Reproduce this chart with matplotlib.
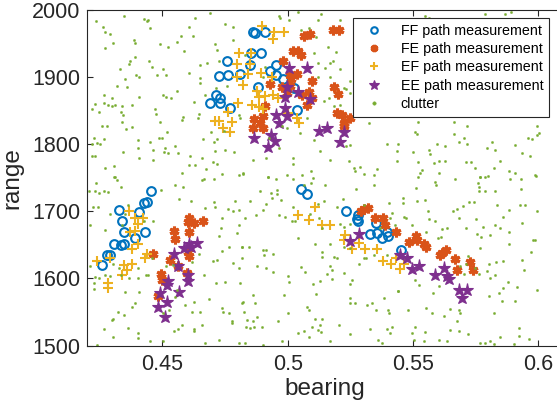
import matplotlib
matplotlib.use("Agg")
import matplotlib.pyplot as plt

plt.rcParams['font.family'] = ['Liberation Sans', 'DejaVu Sans']

# ---------------- data ----------------
ff_bearing = [0.4759, 0.4727, 0.4760, 0.4811, 0.4715, 0.4730, 0.4691, 0.4728, 0.4770,
              0.4862, 0.4870, 0.4911, 0.4854, 0.4895, 0.4850, 0.4953, 0.4930, 0.4954,
              0.4983, 0.4883, 0.5026, 0.5039,
              0.4456, 0.4428, 0.4438, 0.4327, 0.4405, 0.4337, 0.4431, 0.4348, 0.4391,
              0.4308, 0.4335, 0.4346, 0.4279, 0.4290, 0.4260,
              0.5053, 0.5075, 0.5231, 0.5279, 0.5277, 0.5279, 0.5354, 0.5330, 0.5357,
              0.5377, 0.5397, 0.5400, 0.5451]
ff_range = [1924, 1902, 1904, 1905, 1873, 1869, 1861, 1861, 1854,
            1967, 1966, 1968, 1937, 1937, 1918, 1919, 1909, 1903,
            1897, 1885, 1884, 1851,
            1731, 1712, 1714, 1702, 1699, 1686, 1669, 1670, 1661,
            1651, 1650, 1652, 1635, 1635, 1620,
            1733, 1726, 1700, 1695, 1689, 1686, 1682, 1666, 1668,
            1660, 1669, 1664, 1642]

fe_bearing = [0.5181, 0.5203, 0.5063, 0.5090, 0.5021, 0.5043, 0.5053, 0.4981, 0.5010,
              0.5037, 0.5097, 0.4930, 0.4977, 0.5013, 0.5010, 0.4997, 0.5083, 0.5097,
              0.5057, 0.5077, 0.5183, 0.5199, 0.4910, 0.4866, 0.4903, 0.4890, 0.4901,
              0.4861, 0.5197, 0.5217, 0.5250, 0.5223, 0.5226,
              0.4604, 0.4601, 0.4624, 0.4661, 0.4546, 0.4604, 0.4551, 0.4601, 0.4604,
              0.4464, 0.4531, 0.4564, 0.4495, 0.4500, 0.4597, 0.4482,
              0.5293, 0.5306, 0.5319, 0.5350, 0.5381, 0.5387, 0.5431, 0.5512, 0.5516,
              0.5485, 0.5542, 0.5552, 0.5616, 0.5632, 0.5609, 0.5669, 0.5726, 0.5676,
              0.5740]
fe_range = [1971, 1970, 1961, 1964, 1940, 1939, 1934, 1925, 1904,
            1905, 1895, 1890, 1885, 1897, 1887, 1877, 1878, 1869,
            1873, 1858, 1886, 1875, 1857, 1838, 1842, 1832, 1825,
            1824, 1847, 1844, 1840, 1832, 1827,
            1690, 1684, 1682, 1686, 1671, 1670, 1659, 1639, 1633,
            1636, 1628, 1619, 1606, 1598, 1608, 1574,
            1700, 1703, 1705, 1690, 1690, 1680, 1670, 1664, 1657,
            1654, 1652, 1647, 1638, 1642, 1635, 1629, 1624, 1613,
            1613]

ef_bearing = [0.4899, 0.4946, 0.4986, 0.4943, 0.4806, 0.4853, 0.4797, 0.4850, 0.4893,
              0.4797, 0.4843, 0.4821, 0.4877, 0.4937, 0.4887, 0.4910, 0.4943, 0.4963,
              0.4857, 0.4803, 0.4887, 0.4900, 0.4710, 0.4725, 0.4741, 0.4770, 0.4777,
              0.4760, 0.5003, 0.5039, 0.5047,
              0.4368, 0.4391, 0.4424, 0.4404, 0.4371, 0.4391, 0.4401, 0.4380, 0.4438,
              0.4431, 0.4239, 0.4291, 0.4348, 0.4378, 0.4358, 0.4338, 0.4284, 0.4284,
              0.5110, 0.5041, 0.5086, 0.5137, 0.5170, 0.5230, 0.5226, 0.5283, 0.5258,
              0.5310, 0.5357, 0.5381, 0.5413, 0.5434, 0.5447, 0.5466]
ef_range = [1977, 1967, 1968, 1957, 1937, 1937, 1920, 1920, 1907,
            1900, 1905, 1888, 1879, 1900, 1871, 1872, 1873, 1869,
            1859, 1861, 1856, 1853, 1835, 1835, 1824, 1819, 1834,
            1848, 1847, 1839, 1832,
            1700, 1690, 1690, 1681, 1670, 1671, 1651, 1644, 1637,
            1631, 1626, 1631, 1620, 1621, 1613, 1605, 1593, 1586,
            1706, 1695, 1687, 1680, 1680, 1665, 1657, 1653, 1644,
            1644, 1644, 1626, 1621, 1630, 1614, 1621]

ee_bearing = [0.5007, 0.5077, 0.4997, 0.5043, 0.5090, 0.4990, 0.4990, 0.4953, 0.4997,
              0.4967, 0.4866, 0.4933, 0.4950, 0.4923, 0.5123, 0.5157, 0.5223, 0.5207,
              0.4638, 0.4607, 0.4584, 0.4615, 0.4548, 0.4564, 0.4600, 0.4602, 0.4524,
              0.4517, 0.4567, 0.4491, 0.4517, 0.4481, 0.4511,
              0.5283, 0.5250, 0.5449, 0.5476, 0.5498, 0.5525, 0.5589, 0.5622, 0.5636,
              0.5645, 0.5682, 0.5716, 0.5696]
ee_range = [1914, 1914, 1885, 1878, 1868, 1870, 1855, 1844, 1842,
            1832, 1809, 1814, 1805, 1796, 1820, 1825, 1818, 1803,
            1653, 1652, 1645, 1647, 1637, 1619, 1605, 1596, 1596,
            1590, 1580, 1578, 1565, 1558, 1542,
            1667, 1656, 1635, 1630, 1614, 1618, 1605, 1615, 1603,
            1599, 1583, 1583, 1571]

clutter_bearing = [
    0.4348, 0.4234, 0.4428, 0.4444, 0.4439, 0.4264, 0.4272, 0.4292, 0.4450, 0.4628,
    0.4691, 0.4748, 0.4780, 0.4604, 0.4574, 0.4620, 0.4386, 0.4391, 0.4302, 0.4491,
    0.4524, 0.4559, 0.4271, 0.4587, 0.4708, 0.4718, 0.4783, 0.4369, 0.4367, 0.4391,
    0.4448, 0.4458, 0.4331, 0.4501, 0.4480, 0.4515, 0.4394, 0.4406, 0.4352, 0.4604,
    0.4651, 0.4678, 0.4727, 0.4651, 0.4650, 0.4320, 0.4359, 0.4557, 0.4715, 0.4671,
    0.4759, 0.4267, 0.4297, 0.4407, 0.4501, 0.4515, 0.4533, 0.4624, 0.4265, 0.4284,
    0.4297, 0.4311, 0.4229, 0.4217, 0.4247, 0.4337, 0.4377, 0.4471, 0.4475, 0.4335,
    0.4344, 0.4581, 0.4578, 0.4644, 0.4641, 0.4695, 0.4744, 0.4804, 0.4811, 0.4337,
    0.4492, 0.4260, 0.4277, 0.4355, 0.4379, 0.4518, 0.4488, 0.4498, 0.4228, 0.4239,
    0.4251, 0.4217, 0.4267, 0.4401, 0.4451, 0.4660, 0.4707, 0.4718, 0.4552, 0.4404,
    0.4464, 0.4511, 0.4505, 0.4521, 0.4341, 0.4561, 0.4711, 0.4751, 0.4787, 0.4220,
    0.4231, 0.4408, 0.4464, 0.4611, 0.4659, 0.4701, 0.4716, 0.4308, 0.4271, 0.4607,
    0.4628, 0.4673, 0.4578, 0.4738, 0.4807, 0.4820, 0.4308,
    0.4967, 0.4970, 0.5007, 0.5043, 0.5133, 0.5121, 0.5210, 0.5083, 0.5054, 0.5114,
    0.5159, 0.5194, 0.5103, 0.5121, 0.5167, 0.5181, 0.5147, 0.5210, 0.5266, 0.5270,
    0.5250, 0.5119, 0.5170, 0.5223, 0.5234, 0.5247, 0.5163, 0.5143, 0.5183, 0.5210,
    0.5077, 0.4830, 0.4903, 0.4910, 0.4977, 0.4997, 0.4927, 0.4967, 0.5023, 0.5021,
    0.4863, 0.4914, 0.4823, 0.4923, 0.4997, 0.5057, 0.5094, 0.5130, 0.5170, 0.5243,
    0.5263, 0.5290, 0.5270, 0.5306, 0.5343, 0.5357, 0.5397, 0.5437, 0.5323, 0.5250,
    0.5234, 0.5103, 0.5050,
    0.5509, 0.5516, 0.5522, 0.5662, 0.5716, 0.5702, 0.5682, 0.5662, 0.5716, 0.5596,
    0.5626, 0.5562, 0.5569, 0.5522, 0.5502, 0.5442, 0.5436, 0.5582, 0.5602, 0.5629,
    0.5712, 0.5733, 0.5536, 0.5529, 0.5602, 0.5749, 0.5769, 0.5789, 0.5822, 0.5816,
    0.5829, 0.5796, 0.5849, 0.5882, 0.5909, 0.5906, 0.5936, 0.5969, 0.5989, 0.5960,
    0.5976, 0.5996, 0.6002, 0.5996, 0.5549, 0.5562, 0.5786, 0.5866, 0.5893,
    0.4235, 0.4311, 0.4317, 0.4335, 0.4208, 0.4231, 0.4248, 0.4267, 0.4284, 0.4223,
    0.4244, 0.4211, 0.4271, 0.4291, 0.4361, 0.4351, 0.4340, 0.4428, 0.4464, 0.4495,
    0.4551, 0.4580, 0.4657, 0.4667, 0.4704, 0.4567, 0.4615, 0.4707, 0.4708, 0.4671,
    0.4761, 0.4788, 0.4804, 0.4780, 0.4738, 0.4735, 0.4798, 0.4804, 0.4724, 0.4764,
    0.4818, 0.4738, 0.4644, 0.4700, 0.4718, 0.4780, 0.4818, 0.4804, 0.4211, 0.4304,
    0.4231, 0.4247, 0.4227, 0.4228, 0.4271, 0.4291, 0.4328, 0.4335, 0.4351, 0.4367,
    0.4433, 0.4444, 0.4458, 0.4404, 0.4401, 0.4408, 0.4391, 0.4377, 0.4298, 0.4304,
    0.4324, 0.4348, 0.4364, 0.4267, 0.4404, 0.4404, 0.4238, 0.4304, 0.4451, 0.4501,
    0.4548, 0.4564, 0.4577, 0.4504, 0.4528, 0.4591, 0.4624, 0.4617, 0.4651, 0.4657,
    0.4624, 0.4624, 0.4551, 0.4558, 0.4514, 0.4544, 0.4617, 0.4664, 0.4684, 0.4714,
    0.4751, 0.4811, 0.4738, 0.4740, 0.4767, 0.4778, 0.4778, 0.4818, 0.4824, 0.4804,
    0.4724, 0.4671,
    0.4923, 0.4954, 0.5023, 0.5101, 0.5093, 0.5063, 0.5150, 0.5274, 0.5343, 0.4830,
    0.4850, 0.4874, 0.4890, 0.4901, 0.4914, 0.4934, 0.4937, 0.4957, 0.4957, 0.4973,
    0.4967, 0.4991, 0.5023, 0.5017, 0.5030, 0.5090, 0.5119, 0.5143, 0.5197, 0.5221,
    0.5123, 0.5137, 0.5210, 0.5223, 0.5250, 0.5303, 0.5403, 0.5417, 0.5407, 0.5430,
    0.5370, 0.5043, 0.5110, 0.5137, 0.5137, 0.5167, 0.5186, 0.5197, 0.5223, 0.5250,
    0.5283, 0.5306, 0.5314, 0.5343, 0.5397, 0.4847, 0.4901, 0.4914, 0.4906, 0.4941,
    0.4817, 0.4877, 0.4914, 0.4943, 0.5003, 0.5007, 0.5070, 0.5053, 0.5130, 0.5170,
    0.5177, 0.5157, 0.5177, 0.5101, 0.5226, 0.5257, 0.5250, 0.4863, 0.4823, 0.4870,
    0.4987, 0.5114, 0.5250, 0.5247, 0.5270, 0.5317, 0.5337, 0.5383, 0.5441, 0.5354,
    0.5399, 0.5403, 0.5077, 0.5083, 0.5003, 0.4961, 0.4837, 0.4861, 0.4877, 0.4834,
    0.4850, 0.4866, 0.4897, 0.5110, 0.5137, 0.5130, 0.5097, 0.5119, 0.5134, 0.5063,
    0.5043, 0.5083, 0.4977, 0.5170, 0.5250, 0.5203, 0.5330, 0.5397, 0.5417, 0.5410,
    0.5359, 0.5377, 0.4903, 0.4830,
    0.5520, 0.5669, 0.5769, 0.5800, 0.5889, 0.5933, 0.5992, 0.5586, 0.5592, 0.5760,
    0.5762, 0.5762, 0.5786, 0.5829, 0.5512, 0.5462, 0.5462, 0.5518, 0.5549, 0.5725,
    0.5742, 0.5698, 0.5676, 0.5658, 0.5836, 0.5882, 0.5929, 0.5949, 0.5933, 0.5996,
    0.5560, 0.5562, 0.5589, 0.5466, 0.5473, 0.5685, 0.5752, 0.5712, 0.5636, 0.5616,
    0.5498, 0.5778, 0.5826, 0.5849, 0.5860, 0.5936, 0.5613, 0.5598, 0.5552, 0.5756,
    0.5773, 0.5809, 0.5882, 0.5885, 0.5769, 0.5720, 0.5712, 0.5749, 0.5762, 0.5796,
    0.5802, 0.5806, 0.5689, 0.5702, 0.5860, 0.5936, 0.5942, 0.5973, 0.5978, 0.5986,
    0.5832, 0.5829, 0.5916, 0.5880, 0.5858, 0.5842, 0.5996, 0.5802, 0.5856, 0.5909,
    0.5509, 0.5525, 0.5602, 0.5580, 0.5442, 0.5552, 0.5576, 0.5482, 0.5649, 0.5682,
    0.5686, 0.5622, 0.5676, 0.5825, 0.5509, 0.5546, 0.5498, 0.5649, 0.5682, 0.5718,
    0.5506, 0.5542, 0.5605, 0.5636, 0.5846, 0.5922, 0.5925, 0.5962, 0.5769, 0.5789,
    0.5809, 0.5822, 0.5902]
clutter_range = [
    1991, 1984, 1987, 1985, 1984, 1975, 1968, 1964, 1974, 1988,
    1996, 1980, 1975, 1975, 1962, 1961, 1956, 1951, 1951, 1950,
    1945, 1952, 1944, 1939, 1950, 1941, 1955, 1925, 1920, 1930,
    1925, 1916, 1912, 1912, 1904, 1904, 1904, 1900, 1897, 1906,
    1919, 1922, 1925, 1899, 1892, 1887, 1886, 1880, 1884, 1874,
    1887, 1873, 1869, 1870, 1873, 1870, 1869, 1863, 1862, 1859,
    1857, 1859, 1860, 1853, 1849, 1857, 1858, 1853, 1846, 1848,
    1844, 1841, 1837, 1845, 1839, 1819, 1820, 1844, 1839, 1834,
    1834, 1827, 1827, 1823, 1826, 1818, 1810, 1810, 1809, 1802,
    1801, 1800, 1808, 1806, 1803, 1808, 1804, 1808, 1797, 1794,
    1792, 1794, 1789, 1787, 1788, 1787, 1790, 1792, 1788, 1782,
    1782, 1779, 1777, 1783, 1779, 1774, 1771, 1768, 1765, 1769,
    1769, 1764, 1757, 1756, 1755, 1756, 1752,
    1992, 1988, 1986, 1998, 1994, 1985, 1985, 1974, 1970, 1960,
    1946, 1938, 1936, 1921, 1921, 1924, 1914, 1913, 1916, 1897,
    1895, 1900, 1901, 1884, 1882, 1877, 1869, 1864, 1857, 1859,
    1839, 1933, 1900, 1916, 1827, 1824, 1810, 1794, 1780, 1771,
    1777, 1779, 1757, 1752, 1755, 1755, 1760, 1790, 1777, 1775,
    1765, 1766, 1760, 1756, 1755, 1764, 1800, 1790, 1832, 1799,
    1797, 1807, 1817,
    1819, 1815, 1834, 1834, 1827, 1809, 1804, 1815, 1801, 1800,
    1798, 1791, 1785, 1774, 1789, 1800, 1775, 1772, 1775, 1775,
    1774, 1774, 1762, 1757, 1757, 1765, 1752, 1752, 1765, 1804,
    1791, 1795, 1775, 1760, 1757, 1799, 1787, 1782, 1755, 1809,
    1808, 1814, 1817, 1827, 1991, 1989, 1994, 1994, 1997,
    1743, 1752, 1747, 1737, 1731, 1730, 1728, 1730, 1729, 1706,
    1706, 1680, 1672, 1696, 1710, 1696, 1680, 1685, 1686, 1732,
    1739, 1737, 1747, 1749, 1749, 1718, 1715, 1714, 1707, 1705,
    1703, 1715, 1702, 1700, 1690, 1675, 1668, 1680, 1663, 1647,
    1647, 1641, 1637, 1626, 1627, 1623, 1630, 1615, 1618, 1621,
    1602, 1600, 1593, 1585, 1605, 1603, 1615, 1605, 1580, 1600,
    1605, 1605, 1630, 1615, 1600, 1580, 1563, 1558, 1538, 1540,
    1550, 1545, 1526, 1524, 1519, 1511, 1501, 1513, 1506, 1506,
    1522, 1525, 1531, 1548, 1553, 1560, 1565, 1550, 1550, 1530,
    1525, 1521, 1573, 1583, 1618, 1620, 1625, 1605, 1570, 1593,
    1595, 1593, 1556, 1550, 1548, 1536, 1533, 1563, 1550, 1503,
    1508, 1503,
    1752, 1749, 1749, 1750, 1742, 1739, 1740, 1733, 1740, 1690,
    1715, 1695, 1730, 1702, 1711, 1727, 1720, 1732, 1726, 1717,
    1695, 1692, 1707, 1685, 1686, 1696, 1711, 1715, 1706, 1719,
    1690, 1675, 1681, 1677, 1681, 1709, 1713, 1697, 1690, 1680,
    1675, 1660, 1652, 1639, 1632, 1652, 1632, 1630, 1647, 1645,
    1622, 1631, 1630, 1635, 1635, 1647, 1642, 1642, 1635, 1636,
    1647, 1618, 1615, 1610, 1603, 1595, 1609, 1617, 1596, 1619,
    1613, 1606, 1599, 1591, 1608, 1598, 1591, 1576, 1565, 1563,
    1576, 1577, 1571, 1563, 1564, 1561, 1564, 1571, 1581, 1553,
    1553, 1548, 1558, 1553, 1549, 1537, 1538, 1537, 1542, 1527,
    1526, 1528, 1527, 1540, 1539, 1531, 1527, 1523, 1520, 1522,
    1519, 1513, 1507, 1507, 1517, 1531, 1524, 1525, 1527, 1519,
    1508, 1503, 1501, 1503,
    1752, 1749, 1752, 1753, 1749, 1748, 1753, 1744, 1740, 1743,
    1737, 1731, 1730, 1730, 1735, 1720, 1712, 1716, 1717, 1714,
    1714, 1708, 1703, 1700, 1710, 1702, 1710, 1710, 1733, 1700,
    1700, 1688, 1685, 1691, 1690, 1690, 1688, 1676, 1676, 1674,
    1680, 1677, 1679, 1676, 1692, 1683, 1662, 1660, 1670, 1666,
    1662, 1665, 1669, 1652, 1646, 1633, 1622, 1615, 1606, 1611,
    1621, 1600, 1618, 1607, 1626, 1628, 1613, 1640, 1658, 1657,
    1625, 1605, 1588, 1594, 1586, 1579, 1583, 1574, 1566, 1566,
    1598, 1590, 1589, 1578, 1581, 1556, 1548, 1553, 1555, 1553,
    1549, 1544, 1537, 1549, 1528, 1520, 1518, 1523, 1522, 1517,
    1508, 1507, 1508, 1507, 1513, 1526, 1514, 1510, 1503, 1503,
    1506, 1502, 1502]

series_labels = ['FF path measurement', 'FE path measurement',
                 'EF path measurement', 'EE path measurement', 'clutter']
x_ticks = [0.45, 0.5, 0.55, 0.6]
x_tick_labels = ['0.45', '0.5', '0.55', '0.6']
y_ticks = [1500, 1600, 1700, 1800, 1900, 2000]

# ---------------- figure ----------------
W, H = 557, 419
fig = plt.figure(figsize=(W / 100, H / 100), dpi=100)
ax = fig.add_axes([87.3 / W, 1 - 345.5 / H, (563.3 - 87.3) / W, 335.2 / H])

c_ff = '#0072BD'
c_fe = '#D95319'
c_ef = '#EDB120'
c_ee = '#7E2F8E'
c_cl = '#77AC30'

ax.plot(ff_bearing, ff_range, linestyle='none', marker='o', markersize=6.3,
        markerfacecolor='none', markeredgecolor=c_ff, markeredgewidth=1.5,
        label=series_labels[0])
ax.plot(fe_bearing, fe_range, linestyle='none', marker=(6, 2, 0), markersize=7.0,
        markeredgecolor=c_fe, markeredgewidth=2.2, color=c_fe,
        label=series_labels[1])
ax.plot(ef_bearing, ef_range, linestyle='none', marker='+', markersize=7.5,
        markeredgecolor=c_ef, markeredgewidth=1.5, label=series_labels[2])
ax.plot(ee_bearing, ee_range, linestyle='none', marker='*', markersize=9.5,
        markerfacecolor=c_ee, markeredgecolor=c_ee, markeredgewidth=0.8,
        label=series_labels[3])
ax.plot(clutter_bearing, clutter_range, linestyle='none', marker='o', markersize=1.6,
        markerfacecolor=c_cl, markeredgecolor=c_cl, markeredgewidth=0.3,
        label=series_labels[4])

ax.set_xlim(0.42, 0.61)
ax.set_ylim(1500, 2000)
ax.set_xticks(x_ticks)
ax.set_xticklabels(x_tick_labels)
ax.set_yticks(y_ticks)

axis_col = '#262626'
for s in ax.spines.values():
    s.set_color(axis_col)
    s.set_linewidth(0.8)
ax.tick_params(direction='in', length=4, width=0.8, colors=axis_col,
               labelsize=15.5, top=True, right=True, pad=6)
ax.tick_params(axis='y', pad=5)

ax.set_xlabel('bearing', fontsize=17.5, color=axis_col, labelpad=2)
ax.set_ylabel('range', fontsize=17.5, color=axis_col, labelpad=6)

leg = ax.legend(loc='upper right', bbox_to_anchor=(549 / W, 1 - 18 / H),
                bbox_transform=fig.transFigure, fontsize=10.3, frameon=True,
                fancybox=False, edgecolor=axis_col, framealpha=1,
                borderpad=0.4, labelspacing=0.3, handlelength=2.2,
                handletextpad=0.75, borderaxespad=0, markerscale=0.75)
leg.get_frame().set_linewidth(0.8)
for h in leg.legend_handles[4:]:
    h.set_markersize(2.5)

fig.savefig('out.png', dpi=100)
